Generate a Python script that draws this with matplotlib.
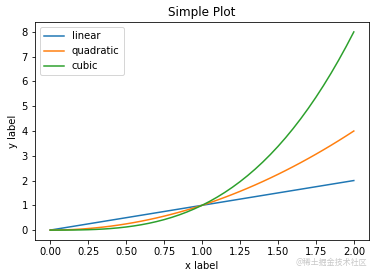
import matplotlib
matplotlib.use("Agg")
import matplotlib.pyplot as plt

x_vals = [0.0, 0.05, 0.1, 0.15, 0.2, 0.25, 0.3, 0.35, 0.4, 0.45, 0.5,
          0.55, 0.6, 0.65, 0.7, 0.75, 0.8, 0.85, 0.9, 0.95, 1.0,
          1.05, 1.1, 1.15, 1.2, 1.25, 1.3, 1.35, 1.4, 1.45, 1.5,
          1.55, 1.6, 1.65, 1.7, 1.75, 1.8, 1.85, 1.9, 1.95, 2.0]
linear_vals = [0.0, 0.05, 0.1, 0.15, 0.2, 0.25, 0.3, 0.35, 0.4, 0.45, 0.5,
               0.55, 0.6, 0.65, 0.7, 0.75, 0.8, 0.85, 0.9, 0.95, 1.0,
               1.05, 1.1, 1.15, 1.2, 1.25, 1.3, 1.35, 1.4, 1.45, 1.5,
               1.55, 1.6, 1.65, 1.7, 1.75, 1.8, 1.85, 1.9, 1.95, 2.0]
quadratic_vals = [0.0, 0.0025, 0.01, 0.0225, 0.04, 0.0625, 0.09, 0.1225, 0.16, 0.2025, 0.25,
                  0.3025, 0.36, 0.4225, 0.49, 0.5625, 0.64, 0.7225, 0.81, 0.9025, 1.0,
                  1.1025, 1.21, 1.3225, 1.44, 1.5625, 1.69, 1.8225, 1.96, 2.1025, 2.25,
                  2.4025, 2.56, 2.7225, 2.89, 3.0625, 3.24, 3.4225, 3.61, 3.8025, 4.0]
cubic_vals = [0.0, 0.0001, 0.001, 0.0034, 0.008, 0.0156, 0.027, 0.0429, 0.064, 0.0911, 0.125,
              0.1664, 0.216, 0.2746, 0.343, 0.4219, 0.512, 0.6141, 0.729, 0.8574, 1.0,
              1.1576, 1.331, 1.5209, 1.728, 1.9531, 2.197, 2.4604, 2.744, 3.0486, 3.375,
              3.7239, 4.096, 4.4921, 4.913, 5.3594, 5.832, 6.3316, 6.859, 7.4149, 8.0]

dpi = 72
fig = plt.figure(figsize=(376 / dpi, 278 / dpi), dpi=dpi)
ax = fig.add_axes([35 / 376, 1 - 240 / 278, (369 - 35) / 376, (240 - 22) / 278])

ax.plot(x_vals, linear_vals, label="linear")
ax.plot(x_vals, quadratic_vals, label="quadratic")
ax.plot(x_vals, cubic_vals, label="cubic")

ax.set_xlabel("x label")
ax.set_ylabel("y label")
ax.set_title("Simple Plot")
ax.legend(loc="upper left")

fig.text(367 / 376, 1 - 262 / 278, "@稀土掘金技术社区", ha="right", va="center",
         fontsize=8, color="#c8c8c8",
         family=["Noto Sans CJK SC", "DejaVu Sans"])

fig.savefig("out.png", dpi=dpi)
